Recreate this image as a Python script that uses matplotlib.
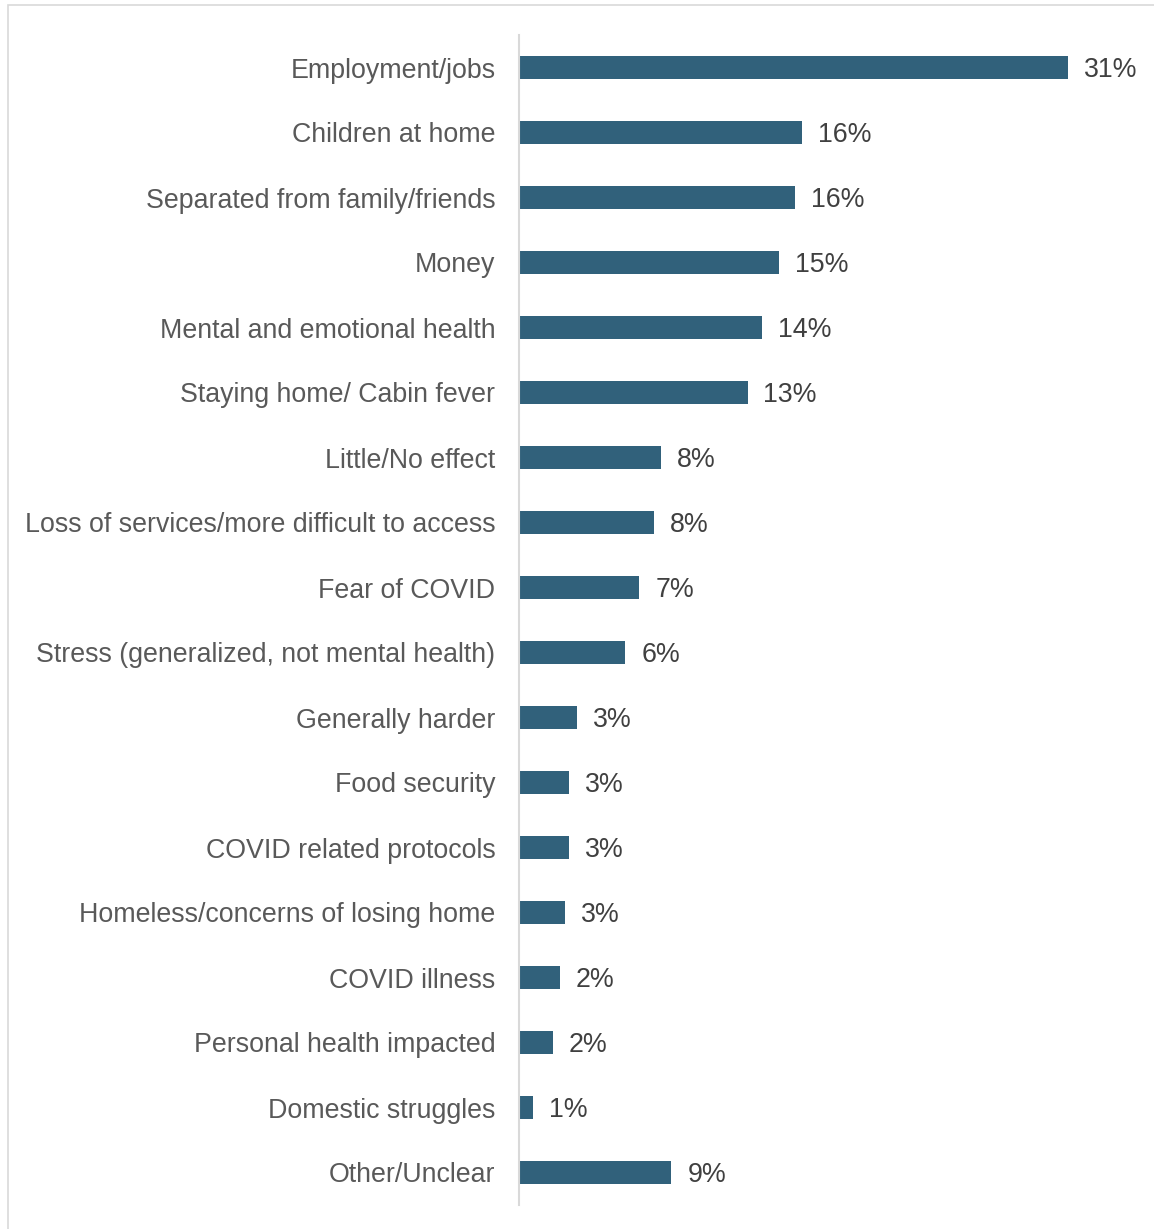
import matplotlib.pyplot as plt
from matplotlib.patches import Rectangle

categories = [
    "Employment/jobs",
    "Children at home",
    "Separated from family/friends",
    "Money",
    "Mental and emotional health",
    "Staying home/ Cabin fever",
    "Little/No effect",
    "Loss of services/more difficult to access",
    "Fear of COVID",
    "Stress (generalized, not mental health)",
    "Generally harder",
    "Food security",
    "COVID related protocols",
    "Homeless/concerns of losing home",
    "COVID illness",
    "Personal health impacted",
    "Domestic struggles",
    "Other/Unclear",
]
# share of responses, percent
shares = [31.0, 16.0, 15.6, 14.7, 13.7, 12.9, 8.0, 7.6, 6.8, 6.0,
          3.3, 2.8, 2.8, 2.6, 2.3, 1.9, 0.8, 8.6]

BAR_COLOR = "#31617B"
LABEL_COLOR = "#595959"
VALUE_COLOR = "#404040"
FONT = "Liberation Sans"
FONT_SIZE = 19.3

W, H = 1154, 1229
fig = plt.figure(figsize=(W / 100, H / 100), dpi=100)

# light frame around the chart area
fig.patches.append(Rectangle((8 / W, -0.2), 1.2, 1.2 - 5 / H, transform=fig.transFigure,
                             fill=False, edgecolor="#D9D9D9", linewidth=1.2))

left, right = 519 / W, 1139 / W
top, bottom = 1 - 35 / H, 1 - 1205 / H
ax = fig.add_axes([left, bottom, right - left, top - bottom])

y = list(range(len(categories)))
ax.barh(y, shares, height=0.34, color=BAR_COLOR)

for yi, v in zip(y, shares):
    ax.text(v + 0.9, yi + 0.04, f"{v:.0f}%", va="center", ha="left",
            fontsize=FONT_SIZE, color=VALUE_COLOR, family=FONT)

ax.set_xlim(0, 35)
ax.set_ylim(len(categories) - 0.5, -0.5)
ax.set_yticks(y)
ax.set_yticklabels(categories, fontsize=FONT_SIZE, color=LABEL_COLOR, family=FONT)
ax.tick_params(axis="y", length=0, pad=17)
ax.set_xticks([])

for side in ("top", "right", "bottom"):
    ax.spines[side].set_visible(False)
ax.spines["left"].set_color("#D9D9D9")
ax.spines["left"].set_linewidth(1.5)

fig.savefig("out.png", dpi=100)
